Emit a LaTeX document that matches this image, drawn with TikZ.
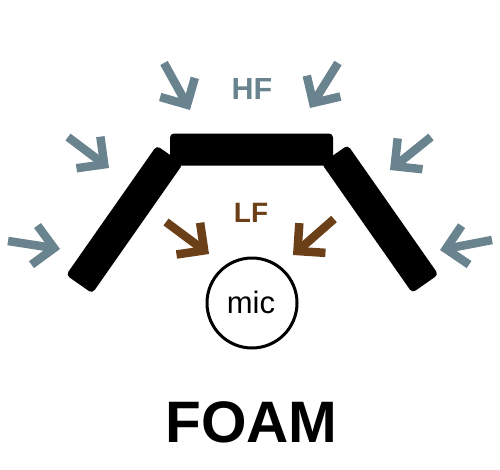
\documentclass[tikz,border=0pt]{standalone}
\usepackage{fontspec}
\setmainfont{Liberation Sans}
\usetikzlibrary{calc}
\definecolor{hfc}{HTML}{6A848F}
\definecolor{lfc}{HTML}{6B4019}
\tikzset{
  foam/.style={fill=black, rounded corners=4pt, inner sep=0pt, minimum height=32pt},
  shaft/.style={line width=8.5pt, line cap=butt},
  chevron/.style={line width=8.5pt, line join=miter, miter limit=10, line cap=butt},
  lbl/.style={anchor=base, inner sep=0pt, font=\bfseries},
}
\newcommand{\chev}[3]{%
  \coordinate (V) at ($(#2)!6pt!(#1)$);
  \draw[shaft,#3] (#1) -- (V);
  \draw[chevron,#3] ($(V)!28pt!45:(#1)$) -- (V) -- ($(V)!28pt!-45:(#1)$);
}
\begin{document}
\begin{tikzpicture}[x=1pt,y=-1pt]
  \path[use as bounding box, fill=white] (0,0) rectangle (500,469);
  % foam panels
  \node[foam, minimum width=163pt] (top) at (251.5,149.5) {};
  \node[foam, minimum width=158pt, rotate=55] (left) at (124.5,219.5) {};
  \node[foam, minimum width=158pt, rotate=-55] (right) at (380,219) {};
  % arrow coordinates
  \coordinate (t1) at (164,63);  \coordinate (h1) at (190,110);
  \coordinate (t2) at (338,63);  \coordinate (h2) at (310,108);
  \coordinate (t3) at (68,137);  \coordinate (h3) at (109,168);
  \coordinate (t4) at (431,137); \coordinate (h4) at (390,170);
  \coordinate (t5) at (8,241);   \coordinate (h5) at (60,249);
  \coordinate (t6) at (492,240); \coordinate (h6) at (440,250);
  \coordinate (t7) at (166,222); \coordinate (h7) at (209,254);
  \coordinate (t8) at (334,219); \coordinate (h8) at (293,255);
  \chev{t1}{h1}{hfc}
  \chev{t2}{h2}{hfc}
  \chev{t3}{h3}{hfc}
  \chev{t4}{h4}{hfc}
  \chev{t5}{h5}{hfc}
  \chev{t6}{h6}{hfc}
  \chev{t7}{h7}{lfc}
  \chev{t8}{h8}{lfc}
  % labels
  \node[lbl, text=hfc, font=\bfseries\fontsize{30.5}{32}\selectfont] (hf) at (252,99) {HF};
  \node[lbl, text=lfc, font=\bfseries\fontsize{28}{30}\selectfont] (lf) at (251,222) {LF};
  % mic
  \node[draw=black, line width=3pt, circle, minimum size=90pt, inner sep=0pt] (mic) at (252,303) {};
  \node[anchor=base, inner sep=0pt, font=\fontsize{31}{33}\selectfont] (mictext) at (251,313) {mic};
  % title
  \node[lbl, font=\bfseries\fontsize{58.5}{60}\selectfont] (foamlbl) at (251.5,442) {FOAM};
\end{tikzpicture}
\end{document}
